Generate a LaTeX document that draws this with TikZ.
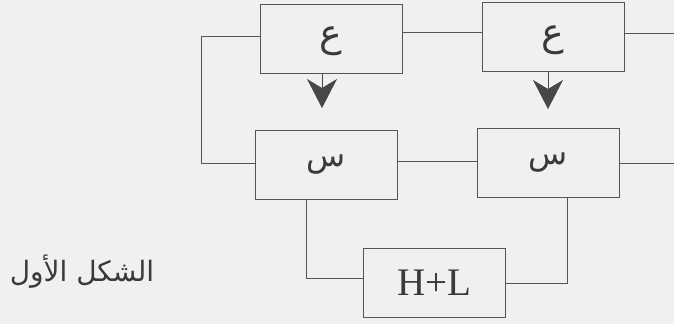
\documentclass[tikz,border=0pt]{standalone}
\usepackage{fontspec}
\setmainfont{Liberation Serif}
\newfontfamily\arabicfont[Script=Arabic]{DejaVu Sans}
\TeXXeTstate=1
\usetikzlibrary{arrows.meta}
\definecolor{bg}{HTML}{F0F0EF}
\definecolor{ln}{HTML}{555555}
\definecolor{tx}{HTML}{3A3A3A}
\definecolor{ah}{HTML}{454845}
\begin{document}
\begin{tikzpicture}[x=1pt,y=-1pt,
  blk/.style={draw=ln,line width=1pt,minimum width=142pt,minimum height=69pt,inner sep=0pt,text=tx},
  ayn/.style={font=\arabicfont\fontsize{38}{38}\selectfont},
  sin/.style={font=\arabicfont\fontsize{32}{32}\selectfont},
  wire/.style={draw=ln,line width=1pt},
  darr/.style={draw=ah,line width=1pt,-{Stealth[length=29pt,width=30pt,inset=9pt]},fill=ah}]
\fill[bg] (0,0) rectangle (674,324);
\useasboundingbox (0,0) rectangle (674,324);
\node[blk] (A) at (331,38.5) {};
\node[ayn,text=tx] (a) at (331,41) {\beginR ع\endR};
\node[blk] (B) at (553,37) {};
\node[ayn,text=tx] (b) at (553,40) {\beginR ع\endR};
\node[blk,sin] (C) at (326.5,164.5) {\beginR س\endR};
\node[blk,sin] (D) at (548.5,163) {\beginR س\endR};
\node[blk,font=\fontsize{39}{39}\selectfont] (E) at (434.5,282.5) {H+L};
\node[text=tx,anchor=center] (cap) at (82,272) {\arabicfont\fontsize{28}{28}\selectfont\beginR الشكل الأول\endR};
\coordinate (Rt) at (674,33);
\coordinate (Rm) at (674,163);
\coordinate (Lk) at (201,36);
\coordinate (Lk2) at (201,163);
\coordinate (ta) at (322,108);
\coordinate (tb) at (548,109);
\draw[wire] (A.east |- 0,32) -- (B.west |- 0,32);
\draw[wire] (B.east |- Rt) -- (Rt);
\draw[wire] (A.west |- Lk) -- (Lk) -- (Lk2) -- (C.west |- Lk2);
\draw[wire] (C.east |- 0,161) -- (D.west |- 0,161);
\draw[wire] (D.east |- Rm) -- (Rm);
\draw[wire] (C.south -| 306,0) -- (306,278) -- (E.west |- 0,278);
\draw[wire] (D.south -| 567,0) -- (567,283) -- (E.east |- 0,283);
\draw[darr] (A.south -| ta) -- (ta);
\draw[darr] (B.south -| tb) -- (tb);
\end{tikzpicture}
\end{document}
